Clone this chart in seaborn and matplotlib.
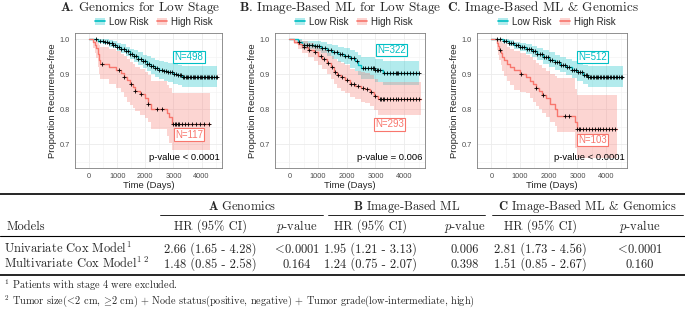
import numpy as np
import pandas as pd
import matplotlib
matplotlib.use("Agg")
import matplotlib.pyplot as plt
import seaborn as sns
from matplotlib.lines import Line2D
from matplotlib.patches import Patch
from matplotlib.legend_handler import HandlerTuple

sns.set_style("white")
plt.rcParams['font.family'] = ['Liberation Sans', 'DejaVu Sans']
plt.rcParams['mathtext.fontset'] = 'cm'

# ---------------- data ----------------
groups = ["Low Risk", "High Risk"]

# Panel A: Genomics for Low Stage
a_low_t = [0, 330, 500, 700, 850, 1000, 1150, 1300, 1450, 1600, 1750, 1900, 2050, 2200, 2350, 2500, 2650, 2800, 3000, 3150, 3300, 4550]
a_low_s = [1.0, 0.996, 0.992, 0.988, 0.984, 0.978, 0.972, 0.965, 0.958, 0.951, 0.944, 0.937, 0.930, 0.923, 0.917, 0.912, 0.908, 0.905, 0.901, 0.897, 0.893, 0.893]
a_low_lo = [1.0, 0.990, 0.985, 0.979, 0.974, 0.967, 0.960, 0.951, 0.943, 0.934, 0.926, 0.918, 0.909, 0.900, 0.893, 0.887, 0.882, 0.878, 0.873, 0.868, 0.864, 0.864]
a_low_hi = [1.0, 1.0, 0.999, 0.997, 0.994, 0.990, 0.985, 0.979, 0.973, 0.968, 0.962, 0.956, 0.951, 0.946, 0.941, 0.937, 0.934, 0.931, 0.929, 0.926, 0.923, 0.923]
a_low_cens = [250, 400, 480, 560, 650, 720, 800, 850, 920, 1000, 1080, 1150, 1230, 1300, 1380, 1450, 1520, 1600, 1680, 1750, 1830, 1900, 1980, 2050, 2120, 2200, 2280, 2350, 2420, 2500, 2580, 2650, 2720, 2800, 2870, 2950, 3020, 3100, 3160, 3220, 3280, 3330, 3380, 3430, 3480, 3530, 3580, 3630, 3680, 3730, 3780, 3830, 3880, 3930, 3980, 4030, 4080, 4130, 4180, 4230, 4280, 4330, 4380, 4430, 4500, 4550]

a_high_t = [0, 150, 200, 250, 300, 350, 400, 720, 950, 1150, 1250, 1350, 1450, 1550, 1650, 1800, 2000, 2100, 2200, 2780, 2850, 2950, 4300]
a_high_s = [1.0, 0.991, 0.983, 0.974, 0.957, 0.940, 0.930, 0.921, 0.912, 0.903, 0.893, 0.884, 0.873, 0.863, 0.853, 0.843, 0.832, 0.815, 0.800, 0.788, 0.777, 0.757, 0.757]
a_high_lo = [1.0, 0.975, 0.960, 0.945, 0.920, 0.900, 0.885, 0.872, 0.860, 0.848, 0.835, 0.822, 0.812, 0.805, 0.795, 0.785, 0.775, 0.765, 0.745, 0.725, 0.705, 0.684, 0.684]
a_high_hi = [1.0, 1.0, 1.0, 0.998, 0.990, 0.982, 0.977, 0.971, 0.965, 0.958, 0.951, 0.944, 0.936, 0.929, 0.921, 0.914, 0.906, 0.897, 0.880, 0.870, 0.860, 0.845, 0.845]
a_high_cens = [450, 1050, 1250, 1500, 1650, 1850, 2100, 2400, 2600, 3000, 3050, 3100, 3150, 3200, 3300, 3400, 3500, 3650, 3800, 3950, 4100, 4250]

# Panel B: Image-Based ML for Low Stage
b_low_t = [0, 300, 450, 900, 1100, 1300, 1500, 1700, 1900, 2100, 2300, 2400, 2500, 3000, 3250, 4520]
b_low_s = [1.0, 0.993, 0.984, 0.981, 0.976, 0.970, 0.963, 0.958, 0.952, 0.945, 0.937, 0.927, 0.917, 0.911, 0.903, 0.903]
b_low_lo = [1.0, 0.985, 0.972, 0.967, 0.960, 0.952, 0.943, 0.936, 0.928, 0.919, 0.909, 0.897, 0.886, 0.879, 0.870, 0.870]
b_low_hi = [1.0, 1.0, 0.996, 0.994, 0.991, 0.987, 0.983, 0.979, 0.975, 0.970, 0.964, 0.956, 0.948, 0.943, 0.937, 0.937]
b_low_cens = [350, 500, 600, 700, 800, 900, 950, 1050, 1150, 1250, 1350, 1450, 1550, 1650, 1750, 1850, 1950, 2050, 2150, 2250, 2350, 2550, 2650, 2750, 2850, 2900, 2950, 3000, 3050, 3100, 3150, 3300, 3400, 3500, 3600, 3700, 3750, 3800, 3900, 4000, 4100, 4200, 4300, 4400, 4500]

b_high_t = [0, 150, 300, 450, 650, 850, 1000, 1150, 1300, 1450, 1550, 1650, 1800, 1950, 2100, 2300, 2500, 2650, 2800, 2950, 3100, 4590]
b_high_s = [1.0, 0.993, 0.985, 0.977, 0.970, 0.962, 0.953, 0.944, 0.933, 0.920, 0.906, 0.899, 0.892, 0.884, 0.873, 0.866, 0.861, 0.857, 0.849, 0.838, 0.828, 0.828]
b_high_lo = [1.0, 0.985, 0.972, 0.960, 0.950, 0.939, 0.927, 0.916, 0.902, 0.887, 0.871, 0.862, 0.853, 0.845, 0.836, 0.828, 0.822, 0.817, 0.808, 0.797, 0.783, 0.783]
b_high_hi = [1.0, 1.0, 0.998, 0.994, 0.990, 0.983, 0.975, 0.968, 0.961, 0.953, 0.943, 0.937, 0.931, 0.925, 0.916, 0.910, 0.906, 0.903, 0.897, 0.887, 0.877, 0.877]
b_high_cens = [500, 700, 900, 1100, 1200, 1350, 1500, 1600, 1700, 1850, 2000, 2150, 2250, 2400, 2550, 2700, 2850, 3000, 3150, 3200, 3250, 3300, 3400, 3500, 3600, 3700, 3800, 3900, 4000, 4100, 4200, 4300, 4400, 4500]

# Panel C: Image-Based ML & Genomics
c_low_t = [0, 420, 600, 800, 1000, 1200, 1400, 1600, 1800, 2000, 2200, 2400, 2600, 2800, 3000, 3200, 3350, 4590]
c_low_s = [1.0, 0.995, 0.989, 0.983, 0.978, 0.972, 0.965, 0.957, 0.948, 0.941, 0.934, 0.927, 0.920, 0.913, 0.907, 0.899, 0.893, 0.893]
c_low_lo = [1.0, 0.988, 0.980, 0.972, 0.965, 0.957, 0.949, 0.940, 0.929, 0.921, 0.913, 0.905, 0.897, 0.889, 0.882, 0.873, 0.864, 0.864]
c_low_hi = [1.0, 1.0, 0.997, 0.993, 0.990, 0.986, 0.981, 0.975, 0.968, 0.962, 0.956, 0.950, 0.944, 0.938, 0.933, 0.926, 0.922, 0.922]
c_low_cens = [200, 300, 450, 520, 600, 680, 760, 850, 920, 1000, 1080, 1150, 1230, 1300, 1380, 1450, 1520, 1600, 1680, 1750, 1830, 1900, 1980, 2050, 2120, 2200, 2280, 2350, 2420, 2500, 2580, 2650, 2720, 2800, 2870, 2950, 3020, 3100, 3160, 3220, 3280, 3330, 3380, 3430, 3480, 3530, 3580, 3630, 3680, 3730, 3780, 3830, 3880, 3930, 3980, 4030, 4080, 4130, 4180, 4230, 4280, 4330, 4380, 4430, 4500, 4550]

c_high_t = [0, 180, 230, 280, 330, 380, 450, 550, 650, 800, 1000, 1200, 1350, 1450, 1550, 1650, 1750, 1900, 2050, 2200, 2300, 2900, 2980, 4370]
c_high_s = [1.0, 0.990, 0.980, 0.970, 0.960, 0.950, 0.940, 0.930, 0.921, 0.911, 0.901, 0.892, 0.882, 0.871, 0.861, 0.851, 0.841, 0.831, 0.815, 0.800, 0.780, 0.763, 0.745, 0.745]
c_high_lo = [1.0, 0.970, 0.955, 0.940, 0.925, 0.910, 0.895, 0.880, 0.868, 0.856, 0.850, 0.845, 0.832, 0.820, 0.810, 0.800, 0.790, 0.778, 0.765, 0.752, 0.735, 0.690, 0.660, 0.660]
c_high_hi = [1.0, 1.0, 1.0, 1.0, 0.995, 0.990, 0.985, 0.979, 0.973, 0.966, 0.960, 0.955, 0.948, 0.940, 0.932, 0.925, 0.918, 0.910, 0.900, 0.895, 0.888, 0.859, 0.840, 0.840]
c_high_cens = [300, 1050, 1550, 1800, 2550, 2700, 3000, 3050, 3100, 3200, 3300, 3400, 3500, 3600, 3700, 3800, 3900, 4000, 4100, 4200, 4300]

n_counts_a = [498, 117]
n_counts_b = [322, 293]
n_counts_c = [512, 103]
p_texts = ["p-value < 0.0001", "p-value = 0.006", "p-value < 0.0001"]
panel_titles = [r"$\mathbf{A}$. Genomics for Low Stage",
                r"$\mathbf{B}$. Image-Based ML for Low Stage",
                r"$\mathbf{C}$. Image-Based ML & Genomics"]
x_ticks = [0, 1000, 2000, 3000, 4000]
y_ticks = [0.7, 0.8, 0.9, 1.0]

# Table
table_groups = [r"$\mathbf{A}$ Genomics", r"$\mathbf{B}$ Image-Based ML", r"$\mathbf{C}$ Image-Based ML & Genomics"]
table_colnames = ["Models", "HR (95% CI)", "$p$-value"]
model_names = [r"Univariate Cox Model$^1$", r"Multivariate Cox Model$^{1\ 2}$"]
hr_a = ["2.66 (1.65 - 4.28)", "1.48 (0.85 - 2.58)"]
p_a = [r"$\!<\!$0.0001", "0.164"]
hr_b = ["1.95 (1.21 - 3.13)", "1.24 (0.75 - 2.07)"]
p_b = ["0.006", "0.398"]
hr_c = ["2.81 (1.73 - 4.56)", "1.51 (0.85 - 2.67)"]
p_c = [r"$\!<\!$0.0001", "0.160"]
footnotes = [r"$^1$ Patients with stage 4 were excluded.",
             r"$^2$ Tumor size($\!<\!$2 cm, $\!\geq\!$2 cm) + Node status(positive, negative) + Tumor grade(low-intermediate, high)"]

# ---------------- layout ----------------
W, H = 685, 310
fig = plt.figure(figsize=(W / 100, H / 100), dpi=100)

def fx(p):
    return p / W

def fy(p):
    return 1 - p / H

COLORS = {"Low Risk": "#00BFC4", "High Risk": "#F8766D"}
SERIF = "cmr10"

def make_df(t, s, lo, hi, group):
    return pd.DataFrame({"time": t, "surv": s, "lower": lo, "upper": hi, "group": group})

panels = [
    dict(curves=[make_df(a_low_t, a_low_s, a_low_lo, a_low_hi, "Low Risk"),
                 make_df(a_high_t, a_high_s, a_high_lo, a_high_hi, "High Risk")],
         cens=[a_low_cens, a_high_cens], n=n_counts_a,
         box=(75, 222), title_x=140, leg_x=154, n_pos=[(3550, 0.950), (3550, 0.728)]),
    dict(curves=[make_df(b_low_t, b_low_s, b_low_lo, b_low_hi, "Low Risk"),
                 make_df(b_high_t, b_high_s, b_high_lo, b_high_hi, "High Risk")],
         cens=[b_low_cens, b_high_cens], n=n_counts_b,
         box=(275, 425), title_x=340, leg_x=354, n_pos=[(3560, 0.969), (3480, 0.757)]),
    dict(curves=[make_df(c_low_t, c_low_s, c_low_lo, c_low_hi, "Low Risk"),
                 make_df(c_high_t, c_high_s, c_high_lo, c_high_hi, "High Risk")],
         cens=[c_low_cens, c_high_cens], n=n_counts_c,
         box=(477, 627), title_x=543, leg_x=557, n_pos=[(3530, 0.950), (3530, 0.712)]),
]

TOP, BOT = 33, 168
for i, pan in enumerate(panels):
    l, r = pan["box"]
    ax = fig.add_axes([fx(l), fy(BOT), (r - l) / W, (BOT - TOP) / H])
    ax.set_xlim(-225, 4725)
    ax.set_ylim(0.6325, 1.0175)
    ax.set_xticks(x_ticks)
    ax.set_yticks(y_ticks)
    ax.set_xticks([-500, 500, 1500, 2500, 3500, 4500], minor=True)
    ax.set_yticks([0.65, 0.75, 0.85, 0.95], minor=True)
    ax.set_yticklabels([f"{v:.1f}" for v in y_ticks])
    ax.grid(which="major", color="#EBEBEB", lw=0.6)
    ax.grid(which="minor", color="#F2F2F2", lw=0.4)
    ax.set_axisbelow(True)
    for sp in ax.spines.values():
        sp.set_color("#7F7F7F")
        sp.set_linewidth(0.6)
    ax.tick_params(axis="both", which="major", length=2, width=0.5, color="#333333",
                   labelsize=5.3, labelcolor="#4D4D4D", pad=1.5)
    ax.tick_params(axis="both", which="minor", length=0)

    for df, cens in zip(pan["curves"], pan["cens"]):
        col = COLORS[df["group"].iloc[0]]
        ax.fill_between(df["time"], df["lower"], df["upper"], step="post",
                        color=col, alpha=0.3, lw=0)
        sns.lineplot(data=df, x="time", y="surv", drawstyle="steps-post", color=col,
                     lw=1.0, estimator=None, ax=ax, legend=False)
        idx = np.searchsorted(df["time"].values, np.asarray(cens), side="right") - 1
        cdf = pd.DataFrame({"time": cens, "surv": df["surv"].values[idx]})
        sns.scatterplot(data=cdf, x="time", y="surv", marker="+", color="black",
                        s=9, linewidth=0.6, ax=ax, legend=False, zorder=5)

    for g, n, (nx, ny) in zip(groups, pan["n"], pan["n_pos"]):
        ax.text(nx, ny, f"N={n}", color=COLORS[g], fontsize=7, ha="center", va="center",
                bbox=dict(boxstyle="square,pad=0.12", fc="white", ec=COLORS[g], lw=0.8), zorder=6)
    ax.text(0.985, 0.075, p_texts[i], transform=ax.transAxes, ha="right", va="center",
            fontsize=6.8, color="black", zorder=6)
    ax.set_xlabel("Time (Days)", fontsize=6.8, labelpad=1)
    ax.set_ylabel("Proportion Recurrence-free", fontsize=6.8, labelpad=2)

    fig.text(fx(pan["title_x"]), fy(8), panel_titles[i], fontfamily=SERIF, fontsize=9.5,
             ha="center", va="center")
    handles = [(Patch(fc=COLORS[g], alpha=0.3, lw=0), Line2D([], [], color=COLORS[g], lw=1.2))
               for g in groups]
    ax.legend(handles, groups, handler_map={tuple: HandlerTuple(ndivide=1)},
              loc="center", bbox_to_anchor=(fx(pan["leg_x"]), fy(22)),
              bbox_transform=fig.transFigure, ncol=2, frameon=False, fontsize=7,
              handlelength=1.0, handleheight=0.8, columnspacing=0.9, handletextpad=0.4,
              borderpad=0)

# ---------------- table ----------------
def hline(y, x0, x1, lw):
    fig.add_artist(Line2D([fx(x0), fx(x1)], [fy(y), fy(y)], color="black", lw=lw))

def ttext(x, yb, s, ha="center", size=9):
    fig.text(fx(x), fy(yb), s, fontfamily=SERIF, fontsize=size, ha=ha, va="baseline")

hline(194, 0, 685, 1.2)
group_spans = [(160, 323), (328, 485), (492, 683)]
for (x0, x1), g in zip(group_spans, table_groups):
    ttext((x0 + x1) / 2, 210, g)
    hline(215, x0, x1, 0.6)
hline(236, 0, 685, 0.8)
hline(275, 0, 685, 1.2)

hr_x = [210, 370, 540]
p_x = [297, 465, 640]
ttext(7, 230, table_colnames[0], ha="left")
for hx, px in zip(hr_x, p_x):
    ttext(hx, 230, table_colnames[1])
    ttext(px, 230, table_colnames[2])

row_base = [253, 268]
for j, yb in enumerate(row_base):
    ttext(4, yb, model_names[j], ha="left")
    for hx, px, hr, pv in zip(hr_x, p_x, [hr_a, hr_b, hr_c], [p_a, p_b, p_c]):
        ttext(hx, yb, hr[j])
        ttext(px, yb, pv[j])

ttext(4, 289, footnotes[0], ha="left", size=7.4)
ttext(4, 304, footnotes[1], ha="left", size=7.4)

fig.savefig("out.png", dpi=100)
